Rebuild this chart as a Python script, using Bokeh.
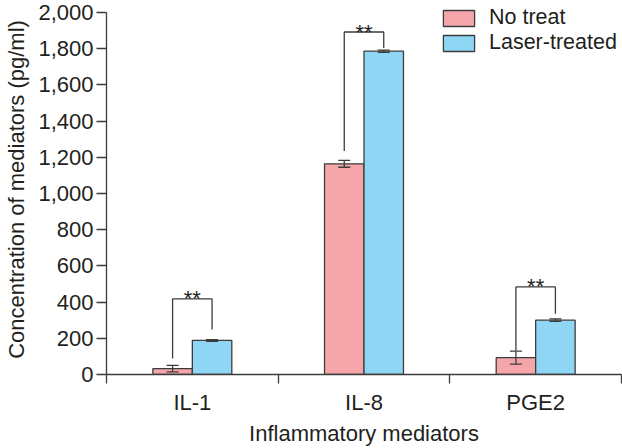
from bokeh.plotting import figure
from bokeh.models import (FixedTicker, NumeralTickFormatter, Whisker, ColumnDataSource,
                          Legend, LegendItem, TeeHead)
from bokeh.core.properties import value
from bokeh.embed import file_html
from bokeh.resources import INLINE

# ---- data ----
categories = ["IL-1", "IL-8", "PGE2"]
series_names = ["No treat", "Laser-treated"]
no_treat = [32, 1164, 93]
no_treat_err = [18, 19, 36]
laser = [188, 1786, 300]
laser_err = [5, 6, 7]
bracket_top = [418, 1892, 484]
bracket_left_bottom = [89, 1235, 133]
bracket_right_bottom = [248, 1804, 336]
sig_labels = ["**", "**", "**"]
y_ticks = list(range(0, 2001, 200))
y_axis_max = 2000

FONT = "Liberation Sans"
FS = "22px"
TEXT = "#231f20"
PINK = "#f5a6aa"
BLUE = "#8fd6f5"
EDGE = "#3c3c3c"

n = len(categories)
centers = [i + 0.5 for i in range(n)]
bw = 0.23
x_nt = [c - bw / 2 for c in centers]
x_lt = [c + bw / 2 for c in centers]

src = ColumnDataSource(dict(
    x_nt=x_nt, nt=no_treat,
    nt_lo=[v - e for v, e in zip(no_treat, no_treat_err)],
    nt_hi=[v + e for v, e in zip(no_treat, no_treat_err)],
    x_lt=x_lt, lt=laser,
    lt_lo=[v - e for v, e in zip(laser, laser_err)],
    lt_hi=[v + e for v, e in zip(laser, laser_err)],
))

# a little headroom above 2,000 so the legend (which sits above the axis top) is not clipped
p = figure(width=622, height=448, x_range=(0, n), y_range=(0, 2044),
           output_backend="svg", toolbar_location=None,
           min_border_left=106, min_border_right=1, min_border_top=4, min_border_bottom=74)
p.outline_line_color = None
p.xgrid.visible = False
p.ygrid.visible = False
p.background_fill_color = "white"
p.border_fill_color = "white"

# x axis: labels at centers, ticks at category boundaries
p.xaxis.ticker = FixedTicker(ticks=centers, minor_ticks=list(range(n + 1)))
p.xaxis.major_label_overrides = {c: cat for c, cat in zip(centers, categories)}
p.xaxis.major_tick_out = 0
p.xaxis.major_tick_in = 0
p.xaxis.minor_tick_out = 9
p.xaxis.minor_tick_in = 0
p.xaxis.major_label_standoff = 6
p.xaxis.axis_label = "Inflammatory mediators"
p.xaxis.axis_label_standoff = 3

p.yaxis.ticker = FixedTicker(ticks=y_ticks)
p.yaxis.bounds = (0, y_axis_max)
p.yaxis.formatter = NumeralTickFormatter(format="0,0")
p.yaxis.major_tick_out = 10
p.yaxis.major_tick_in = 0
p.yaxis.minor_tick_out = 0
p.yaxis.minor_tick_in = 0
p.yaxis.major_label_standoff = 3
p.yaxis.axis_label = "Concentration of mediators (pg/ml)"
p.yaxis.axis_label_standoff = 6

for ax in (p.xaxis, p.yaxis):
    ax.axis_line_color = EDGE
    ax.axis_line_width = 1.3
    ax.major_tick_line_color = EDGE
    ax.major_tick_line_width = 1.3
    ax.minor_tick_line_color = EDGE
    ax.minor_tick_line_width = 1.3
    ax.major_label_text_font = FONT
    ax.major_label_text_font_size = FS
    ax.major_label_text_color = TEXT
    ax.axis_label_text_font = FONT
    ax.axis_label_text_font_size = FS
    ax.axis_label_text_font_style = "normal"
    ax.axis_label_text_color = TEXT

r1 = p.vbar(x="x_nt", top="nt", bottom=0, width=bw, source=src,
            fill_color=PINK, line_color=EDGE, line_width=1.3)
r2 = p.vbar(x="x_lt", top="lt", bottom=0, width=bw, source=src,
            fill_color=BLUE, line_color=EDGE, line_width=1.3)

for xcol, lo, hi in (("x_nt", "nt_lo", "nt_hi"), ("x_lt", "lt_lo", "lt_hi")):
    w = Whisker(base=xcol, lower=lo, upper=hi, source=src, level="annotation",
                line_color=EDGE, line_width=1.3,
                upper_head=TeeHead(size=12, line_color=EDGE, line_width=1.3),
                lower_head=TeeHead(size=12, line_color=EDGE, line_width=1.3))
    p.add_layout(w)

# significance brackets
xs = [[a, a, b, b] for a, b in zip(x_nt, x_lt)]
ys = [[lb, t, t, rb] for lb, t, rb in zip(bracket_left_bottom, bracket_top, bracket_right_bottom)]
p.multi_line(xs=xs, ys=ys, line_color=EDGE, line_width=1.3)
p.text(x=centers, y=bracket_top, text=sig_labels, text_align="center",
       text_baseline="alphabetic", y_offset=0, text_font=value(FONT),
       text_font_size=FS, text_color=TEXT)

legend = Legend(items=[LegendItem(label=series_names[0], renderers=[r1]),
                       LegendItem(label=series_names[1], renderers=[r2])],
                location=(333, 319), orientation="vertical",
                padding=0, margin=0, spacing=0,
                glyph_width=39, glyph_height=20, label_standoff=11,
                label_text_font=FONT, label_text_font_size="21.5px", label_text_color=TEXT,
                border_line_color=None, background_fill_alpha=0)
p.add_layout(legend)

open("out.html", "w").write(file_html(p, INLINE))
